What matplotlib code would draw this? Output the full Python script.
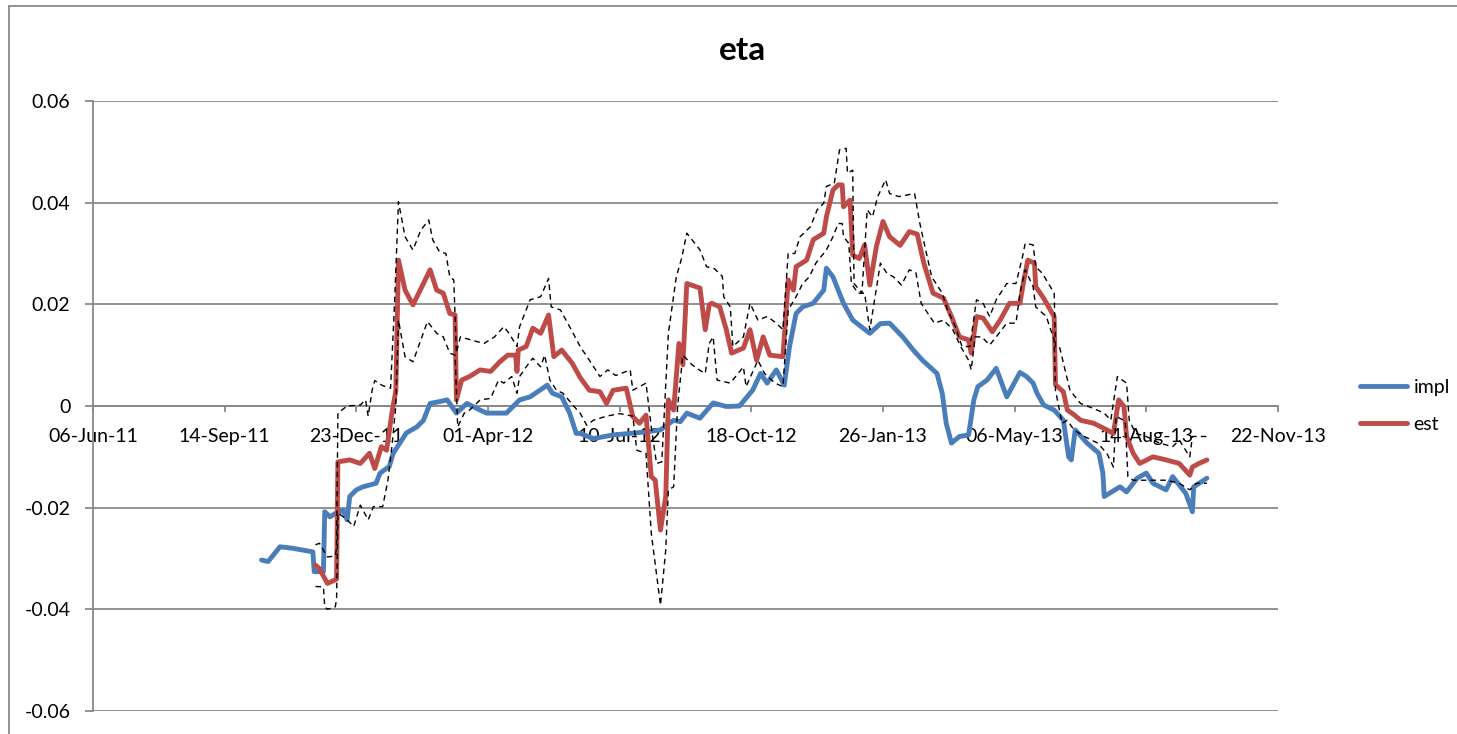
import matplotlib
matplotlib.use("Agg")
import matplotlib.pyplot as plt
import matplotlib.dates as mdates
from matplotlib.lines import Line2D
from matplotlib.ticker import FuncFormatter
import pandas as pd

plt.rcParams['font.family'] = ['Lato', 'DejaVu Sans']

title = "eta"
series_names = ["impl", "est"]
y_ticks = [-0.06, -0.04, -0.02, 0.0, 0.02, 0.04, 0.06]
x_start = "2011-06-06"
x_end = "2013-11-22"
x_tick_dates = ["2011-06-06", "2011-09-14", "2011-12-23", "2012-04-01", "2012-07-10",
                "2012-10-18", "2013-01-26", "2013-05-06", "2013-08-14", "2013-11-22"]

impl_dates = [
    "2011-10-12", "2011-10-17", "2011-10-26", "2011-11-05", "2011-11-20", "2011-11-21",
    "2011-11-28", "2011-11-29", "2011-12-03", "2011-12-08", "2011-12-13", "2011-12-16",
    "2011-12-18", "2011-12-23", "2011-12-28", "2012-01-07", "2012-01-10", "2012-01-17",
    "2012-01-20", "2012-01-25", "2012-01-30", "2012-02-07", "2012-02-12", "2012-02-17",
    "2012-02-23", "2012-03-01", "2012-03-08", "2012-03-16", "2012-03-26", "2012-03-31",
    "2012-04-15", "2012-04-25", "2012-05-03", "2012-05-16", "2012-05-20", "2012-05-27",
    "2012-06-02", "2012-06-07", "2012-06-10", "2012-06-20", "2012-07-05", "2012-07-30",
    "2012-08-10", "2012-08-20", "2012-08-25", "2012-08-30", "2012-09-09", "2012-09-19",
    "2012-09-29", "2012-10-09", "2012-10-19", "2012-10-25", "2012-10-30", "2012-11-06",
    "2012-11-12", "2012-11-16", "2012-11-21", "2012-11-26", "2012-12-04", "2012-12-12",
    "2012-12-14", "2012-12-19", "2012-12-27", "2013-01-03", "2013-01-16", "2013-01-24",
    "2013-01-31", "2013-02-10", "2013-02-18", "2013-02-25", "2013-03-08", "2013-03-12",
    "2013-03-15", "2013-03-19", "2013-03-25", "2013-04-01", "2013-04-05", "2013-04-08",
    "2013-04-15", "2013-04-22", "2013-04-30", "2013-05-10", "2013-05-15", "2013-05-20",
    "2013-05-23", "2013-05-28", "2013-06-05", "2013-06-12", "2013-06-16", "2013-06-18",
    "2013-06-21", "2013-06-30", "2013-07-09", "2013-07-12", "2013-07-13", "2013-07-25",
    "2013-07-30", "2013-08-07", "2013-08-14", "2013-08-19", "2013-08-29", "2013-09-03",
    "2013-09-13", "2013-09-18", "2013-09-19", "2013-09-29"]
impl_values = [
    -0.0303, -0.0306, -0.0277, -0.0280, -0.0287, -0.0326,
    -0.0326, -0.0208, -0.0218, -0.0210, -0.0205, -0.0224,
    -0.0178, -0.0165, -0.0159, -0.0152, -0.0132, -0.0119,
    -0.0093, -0.0073, -0.0053, -0.0041, -0.0028, 0.0005,
    0.0008, 0.0012, -0.0014, 0.0005, -0.0008, -0.0014,
    -0.0014, 0.0012, 0.0018, 0.0041, 0.0025, 0.0018,
    -0.0014, -0.0054, -0.0054, -0.0064, -0.0057, -0.0051,
    -0.0047, -0.0028, -0.0031, -0.0014, -0.0024, 0.0006,
    -0.0001, 0.0000, 0.0031, 0.0064, 0.0045, 0.0071,
    0.0041, 0.0117, 0.0182, 0.0195, 0.0202, 0.0228,
    0.0271, 0.0254, 0.0202, 0.0169, 0.0143, 0.0162,
    0.0163, 0.0136, 0.0110, 0.0090, 0.0064, 0.0025,
    -0.0034, -0.0073, -0.0060, -0.0057, 0.0012, 0.0038,
    0.0051, 0.0074, 0.0018, 0.0066, 0.0058, 0.0045,
    0.0025, 0.0002, -0.0008, -0.0028, -0.0100, -0.0106,
    -0.0047, -0.0073, -0.0093, -0.0132, -0.0178, -0.0159,
    -0.0169, -0.0142, -0.0132, -0.0152, -0.0165, -0.0139,
    -0.0172, -0.0208, -0.0159, -0.0142]

est_dates = [
    "2011-11-22", "2011-11-25", "2011-12-01", "2011-12-07", "2011-12-08", "2011-12-09",
    "2011-12-18", "2011-12-26", "2012-01-02", "2012-01-06", "2012-01-11", "2012-01-15",
    "2012-01-19", "2012-01-22", "2012-01-24", "2012-01-29", "2012-02-04", "2012-02-12",
    "2012-02-17", "2012-02-22", "2012-02-27", "2012-03-03", "2012-03-07", "2012-03-08",
    "2012-03-12", "2012-03-18", "2012-03-26", "2012-04-03", "2012-04-10", "2012-04-16",
    "2012-04-22", "2012-04-23", "2012-04-24", "2012-04-30", "2012-05-05", "2012-05-11",
    "2012-05-17", "2012-05-21", "2012-05-27", "2012-06-04", "2012-06-10", "2012-06-17",
    "2012-06-25", "2012-06-30", "2012-07-05", "2012-07-15", "2012-07-20", "2012-07-25",
    "2012-07-30", "2012-08-03", "2012-08-06", "2012-08-10", "2012-08-14", "2012-08-16",
    "2012-08-20", "2012-08-24", "2012-08-27", "2012-08-30", "2012-09-09", "2012-09-13",
    "2012-09-16", "2012-09-18", "2012-09-24", "2012-09-29", "2012-10-03", "2012-10-12",
    "2012-10-17", "2012-10-22", "2012-10-27", "2012-11-01", "2012-11-11", "2012-11-15",
    "2012-11-19", "2012-11-21", "2012-11-29", "2012-12-04", "2012-12-12", "2012-12-14",
    "2012-12-19", "2012-12-23", "2012-12-26", "2012-12-27", "2013-01-01", "2013-01-03",
    "2013-01-08", "2013-01-12", "2013-01-16", "2013-01-21", "2013-01-26", "2013-01-31",
    "2013-02-08", "2013-02-15", "2013-02-21", "2013-02-26", "2013-03-05", "2013-03-13",
    "2013-03-19", "2013-03-25", "2013-04-01", "2013-04-03", "2013-04-07", "2013-04-12",
    "2013-04-19", "2013-04-25", "2013-05-02", "2013-05-10", "2013-05-13", "2013-05-16",
    "2013-05-21", "2013-05-22", "2013-05-28", "2013-06-05", "2013-06-06", "2013-06-12",
    "2013-06-15", "2013-06-20", "2013-06-25", "2013-07-05", "2013-07-15", "2013-07-20",
    "2013-07-24", "2013-07-28", "2013-07-30", "2013-08-04", "2013-08-09", "2013-08-19",
    "2013-08-29", "2013-09-08", "2013-09-16", "2013-09-18", "2013-09-23", "2013-09-29"]
est_values = [
    -0.0313, -0.0320, -0.0349, -0.0342, -0.0340, -0.0110,
    -0.0106, -0.0113, -0.0093, -0.0123, -0.0080, -0.0087,
    -0.0014, 0.0030, 0.0287, 0.0228, 0.0199, 0.0241,
    0.0268, 0.0228, 0.0222, 0.0182, 0.0179, 0.0012,
    0.0051, 0.0058, 0.0071, 0.0068, 0.0087, 0.0100,
    0.0100, 0.0068, 0.0110, 0.0117, 0.0153, 0.0143,
    0.0179, 0.0097, 0.0110, 0.0084, 0.0056, 0.0031,
    0.0028, 0.0005, 0.0031, 0.0035, -0.0021, -0.0034,
    -0.0018, -0.0139, -0.0146, -0.0244, -0.0178, 0.0012,
    -0.0008, 0.0123, 0.0081, 0.0241, 0.0232, 0.0150,
    0.0199, 0.0202, 0.0195, 0.0150, 0.0104, 0.0114,
    0.0150, 0.0090, 0.0136, 0.0100, 0.0097, 0.0248,
    0.0228, 0.0274, 0.0287, 0.0327, 0.0340, 0.0372,
    0.0425, 0.0435, 0.0435, 0.0392, 0.0405, 0.0297,
    0.0290, 0.0317, 0.0238, 0.0314, 0.0363, 0.0333,
    0.0316, 0.0343, 0.0338, 0.0281, 0.0222, 0.0212,
    0.0176, 0.0136, 0.0130, 0.0104, 0.0176, 0.0173,
    0.0146, 0.0169, 0.0202, 0.0202, 0.0248, 0.0287,
    0.0281, 0.0235, 0.0212, 0.0176, 0.0042, 0.0028,
    -0.0008, -0.0017, -0.0028, -0.0034, -0.0047, -0.0054,
    0.0012, -0.0001, -0.0060, -0.0093, -0.0113, -0.0100,
    -0.0106, -0.0113, -0.0136, -0.0120, -0.0113, -0.0106]

upper_dates = [
    "2011-11-22", "2011-11-25", "2011-12-01", "2011-12-07", "2011-12-08", "2011-12-09",
    "2011-12-16", "2011-12-26", "2011-12-30", "2012-01-01", "2012-01-04", "2012-01-06",
    "2012-01-12", "2012-01-18", "2012-01-21", "2012-01-24", "2012-01-29", "2012-02-04",
    "2012-02-10", "2012-02-16", "2012-02-19", "2012-02-24", "2012-02-29", "2012-03-03",
    "2012-03-06", "2012-03-08", "2012-03-11", "2012-03-19", "2012-03-29", "2012-04-06",
    "2012-04-13", "2012-04-17", "2012-04-23", "2012-04-25", "2012-05-03", "2012-05-11",
    "2012-05-17", "2012-05-19", "2012-05-26", "2012-06-02", "2012-06-10", "2012-06-17",
    "2012-06-25", "2012-07-01", "2012-07-07", "2012-07-18", "2012-07-20", "2012-07-30",
    "2012-08-03", "2012-08-07", "2012-08-11", "2012-08-16", "2012-08-22", "2012-08-26",
    "2012-08-30", "2012-09-05", "2012-09-09", "2012-09-14", "2012-09-20", "2012-09-26",
    "2012-09-27", "2012-10-02", "2012-10-04", "2012-10-12", "2012-10-17", "2012-10-23",
    "2012-10-30", "2012-11-06", "2012-11-11", "2012-11-15", "2012-11-20", "2012-11-24",
    "2012-12-02", "2012-12-07", "2012-12-12", "2012-12-14", "2012-12-20", "2012-12-24",
    "2012-12-29", "2012-12-30", "2013-01-03", "2013-01-04", "2013-01-10", "2013-01-14",
    "2013-01-18", "2013-01-22", "2013-01-28", "2013-01-31", "2013-02-07", "2013-02-19",
    "2013-02-23", "2013-02-28", "2013-03-04", "2013-03-12", "2013-03-16", "2013-03-22",
    "2013-03-27", "2013-04-02", "2013-04-07", "2013-04-12", "2013-04-17", "2013-04-22",
    "2013-04-30", "2013-05-07", "2013-05-12", "2013-05-14", "2013-05-20", "2013-05-22",
    "2013-05-27", "2013-06-05", "2013-06-06", "2013-06-09", "2013-06-17", "2013-06-25",
    "2013-07-05", "2013-07-13", "2013-07-18", "2013-07-23", "2013-07-30", "2013-08-01",
    "2013-08-06", "2013-08-14", "2013-08-24", "2013-09-03", "2013-09-08", "2013-09-16",
    "2013-09-18", "2013-09-29"]
upper_values = [
    -0.0273, -0.0270, -0.0297, -0.0295, -0.0280, -0.0014,
    0.0000, 0.0002, 0.0012, -0.0020, 0.0031, 0.0050,
    0.0040, 0.0035, 0.0200, 0.0402, 0.0333, 0.0307,
    0.0346, 0.0366, 0.0327, 0.0304, 0.0300, 0.0254,
    0.0248, 0.0104, 0.0136, 0.0130, 0.0123, 0.0136,
    0.0156, 0.0143, 0.0117, 0.0156, 0.0209, 0.0215,
    0.0251, 0.0195, 0.0189, 0.0156, 0.0117, 0.0090,
    0.0058, 0.0071, 0.0060, 0.0071, 0.0031, 0.0045,
    -0.0041, -0.0113, -0.0110, 0.0143, 0.0254, 0.0290,
    0.0340, 0.0320, 0.0307, 0.0274, 0.0270, 0.0255,
    0.0215, 0.0195, 0.0117, 0.0136, 0.0202, 0.0169,
    0.0176, 0.0163, 0.0150, 0.0300, 0.0300, 0.0333,
    0.0353, 0.0386, 0.0399, 0.0432, 0.0438, 0.0504,
    0.0507, 0.0458, 0.0464, 0.0241, 0.0222, 0.0386,
    0.0372, 0.0412, 0.0445, 0.0418, 0.0412, 0.0418,
    0.0359, 0.0300, 0.0254, 0.0222, 0.0189, 0.0156,
    0.0117, 0.0117, 0.0209, 0.0202, 0.0176, 0.0209,
    0.0241, 0.0241, 0.0294, 0.0320, 0.0317, 0.0274,
    0.0261, 0.0222, 0.0117, 0.0117, 0.0031, 0.0005,
    -0.0005, -0.0014, -0.0028, 0.0058, 0.0045, -0.0028,
    -0.0054, -0.0060, -0.0073, -0.0080, -0.0067, -0.0100,
    -0.0060, -0.0060]

lower_dates = [
    "2011-11-22", "2011-11-28", "2011-11-29", "2011-12-01", "2011-12-07", "2011-12-08",
    "2011-12-09", "2011-12-16", "2011-12-21", "2011-12-26", "2012-01-01", "2012-01-05",
    "2012-01-12", "2012-01-16", "2012-01-19", "2012-01-22", "2012-01-24", "2012-01-29",
    "2012-02-04", "2012-02-09", "2012-02-15", "2012-02-22", "2012-02-27", "2012-03-03",
    "2012-03-07", "2012-03-09", "2012-03-14", "2012-03-18", "2012-03-26", "2012-04-03",
    "2012-04-09", "2012-04-13", "2012-04-19", "2012-04-23", "2012-04-25", "2012-04-30",
    "2012-05-05", "2012-05-11", "2012-05-14", "2012-05-18", "2012-05-23", "2012-05-28",
    "2012-06-05", "2012-06-10", "2012-06-15", "2012-06-20", "2012-06-30", "2012-07-10",
    "2012-07-20", "2012-07-23", "2012-07-30", "2012-08-03", "2012-08-10", "2012-08-14",
    "2012-08-16", "2012-08-20", "2012-08-23", "2012-08-27", "2012-09-03", "2012-09-09",
    "2012-09-13", "2012-09-16", "2012-09-19", "2012-09-22", "2012-10-02", "2012-10-12",
    "2012-10-14", "2012-10-23", "2012-10-28", "2012-11-05", "2012-11-11", "2012-11-15",
    "2012-11-21", "2012-11-26", "2012-12-01", "2012-12-06", "2012-12-14", "2012-12-19",
    "2012-12-23", "2012-12-26", "2012-12-27", "2012-12-31", "2013-01-02", "2013-01-07",
    "2013-01-12", "2013-01-16", "2013-01-24", "2013-01-29", "2013-02-03", "2013-02-09",
    "2013-02-15", "2013-02-20", "2013-02-24", "2013-03-06", "2013-03-13", "2013-03-20",
    "2013-03-26", "2013-04-01", "2013-04-03", "2013-04-06", "2013-04-11", "2013-04-17",
    "2013-04-22", "2013-04-30", "2013-05-07", "2013-05-10", "2013-05-14", "2013-05-20",
    "2013-05-22", "2013-05-30", "2013-06-05", "2013-06-06", "2013-06-11", "2013-06-15",
    "2013-06-20", "2013-06-28", "2013-07-08", "2013-07-15", "2013-07-20", "2013-07-22",
    "2013-07-29", "2013-07-31", "2013-08-04", "2013-08-14", "2013-08-29", "2013-09-08",
    "2013-09-16", "2013-09-21", "2013-09-29"]
lower_values = [
    -0.0355, -0.0356, -0.0395, -0.0400, -0.0395, -0.0380,
    -0.0210, -0.0224, -0.0237, -0.0195, -0.0224, -0.0198,
    -0.0198, -0.0146, -0.0080, 0.0000, 0.0169, 0.0097,
    0.0087, 0.0123, 0.0166, 0.0143, 0.0136, 0.0104,
    0.0100, -0.0041, -0.0014, -0.0008, 0.0012, 0.0015,
    0.0051, 0.0045, 0.0058, 0.0025, 0.0058, 0.0077,
    0.0094, 0.0077, 0.0100, 0.0051, 0.0031, 0.0025,
    0.0000, -0.0014, -0.0038, -0.0028, -0.0020, -0.0015,
    -0.0020, -0.0087, -0.0093, -0.0250, -0.0392, -0.0283,
    -0.0165, -0.0159, 0.0000, 0.0100, 0.0081, 0.0070,
    0.0064, 0.0123, 0.0136, 0.0051, 0.0045, 0.0077,
    0.0038, 0.0090, 0.0064, 0.0045, 0.0038, 0.0189,
    0.0215, 0.0241, 0.0254, 0.0281, 0.0307, 0.0333,
    0.0359, 0.0359, 0.0333, 0.0320, 0.0241, 0.0222,
    0.0222, 0.0150, 0.0281, 0.0261, 0.0254, 0.0238,
    0.0268, 0.0262, 0.0202, 0.0163, 0.0169, 0.0150,
    0.0117, 0.0090, 0.0071, 0.0136, 0.0136, 0.0120,
    0.0136, 0.0163, 0.0163, 0.0222, 0.0268, 0.0235,
    0.0195, 0.0176, 0.0130, 0.0031, -0.0034, -0.0028,
    -0.0047, -0.0060, -0.0073, -0.0093, -0.0120, -0.0020,
    -0.0030, -0.0139, -0.0146, -0.0146, -0.0146, -0.0152,
    -0.0165, -0.0152, -0.0152]

W, H = 1457, 734
fig = plt.figure(figsize=(W / 100, H / 100), dpi=100)
fig.patch.set_facecolor('white')

grey = '#898989'
# outer chart-area border (top and left edges visible in the crop)
fig.add_artist(Line2D([9 / W, 1.0], [1 - 6 / H, 1 - 6 / H], color=grey, lw=1.3,
                      transform=fig.transFigure))
fig.add_artist(Line2D([9 / W, 9 / W], [0.0, 1 - 6 / H], color=grey, lw=1.3,
                      transform=fig.transFigure))

ax = fig.add_axes([93 / W, 1 - 711 / H, (1278 - 93) / W, (711 - 101) / H])

blue = '#4a7ebb'
red = '#be4b48'
ax.plot(pd.to_datetime(impl_dates), impl_values, color=blue, lw=3.5,
        solid_joinstyle='round', solid_capstyle='round', zorder=3)
ax.plot(pd.to_datetime(est_dates), est_values, color=red, lw=3.5,
        solid_joinstyle='round', solid_capstyle='round', zorder=4)
ax.plot(pd.to_datetime(upper_dates), upper_values, color='black', lw=1.0,
        ls=(0, (4, 3)), zorder=5)
ax.plot(pd.to_datetime(lower_dates), lower_values, color='black', lw=1.0,
        ls=(0, (4, 3)), zorder=5)

ax.set_ylim(y_ticks[0], y_ticks[-1])
ax.set_yticks(y_ticks)
ax.yaxis.set_major_formatter(FuncFormatter(lambda v, p: f"{v:g}"))
ax.set_xlim(pd.Timestamp(x_start), pd.Timestamp(x_end))
ax.set_xticks(pd.to_datetime(x_tick_dates))
ax.xaxis.set_major_formatter(mdates.DateFormatter('%d-%b-%y'))

ax.yaxis.grid(True, color=grey, lw=1.3)
ax.set_axisbelow(True)
for s in ['top', 'right']:
    ax.spines[s].set_visible(False)
ax.spines['left'].set_color(grey)
ax.spines['left'].set_linewidth(1.3)
ax.spines['bottom'].set_position(('data', 0))
ax.spines['bottom'].set_color(grey)
ax.spines['bottom'].set_linewidth(1.3)

ax.tick_params(axis='y', direction='out', length=5.8, width=1.3, color=grey,
               pad=10.5, labelsize=14, labelcolor='black')
ax.tick_params(axis='x', direction='out', length=4.5, width=1.3, color=grey,
               pad=11, labelsize=14, labelcolor='black')

fig.text(743 / W, 1 - 50 / H, title, ha='center', va='center',
         fontsize=24, fontweight='bold')

handles = [Line2D([], [], color=blue, lw=3.5, solid_capstyle='round'),
           Line2D([], [], color=red, lw=3.5, solid_capstyle='round')]
fig.legend(handles, series_names, loc='center left',
           bbox_to_anchor=(1360 / W, 1 - 406 / H), frameon=False,
           fontsize=14, handlelength=2.4, handletextpad=0.35,
           labelspacing=1.0, borderpad=0, borderaxespad=0)

fig.savefig('out.png', dpi=100, facecolor='white')
